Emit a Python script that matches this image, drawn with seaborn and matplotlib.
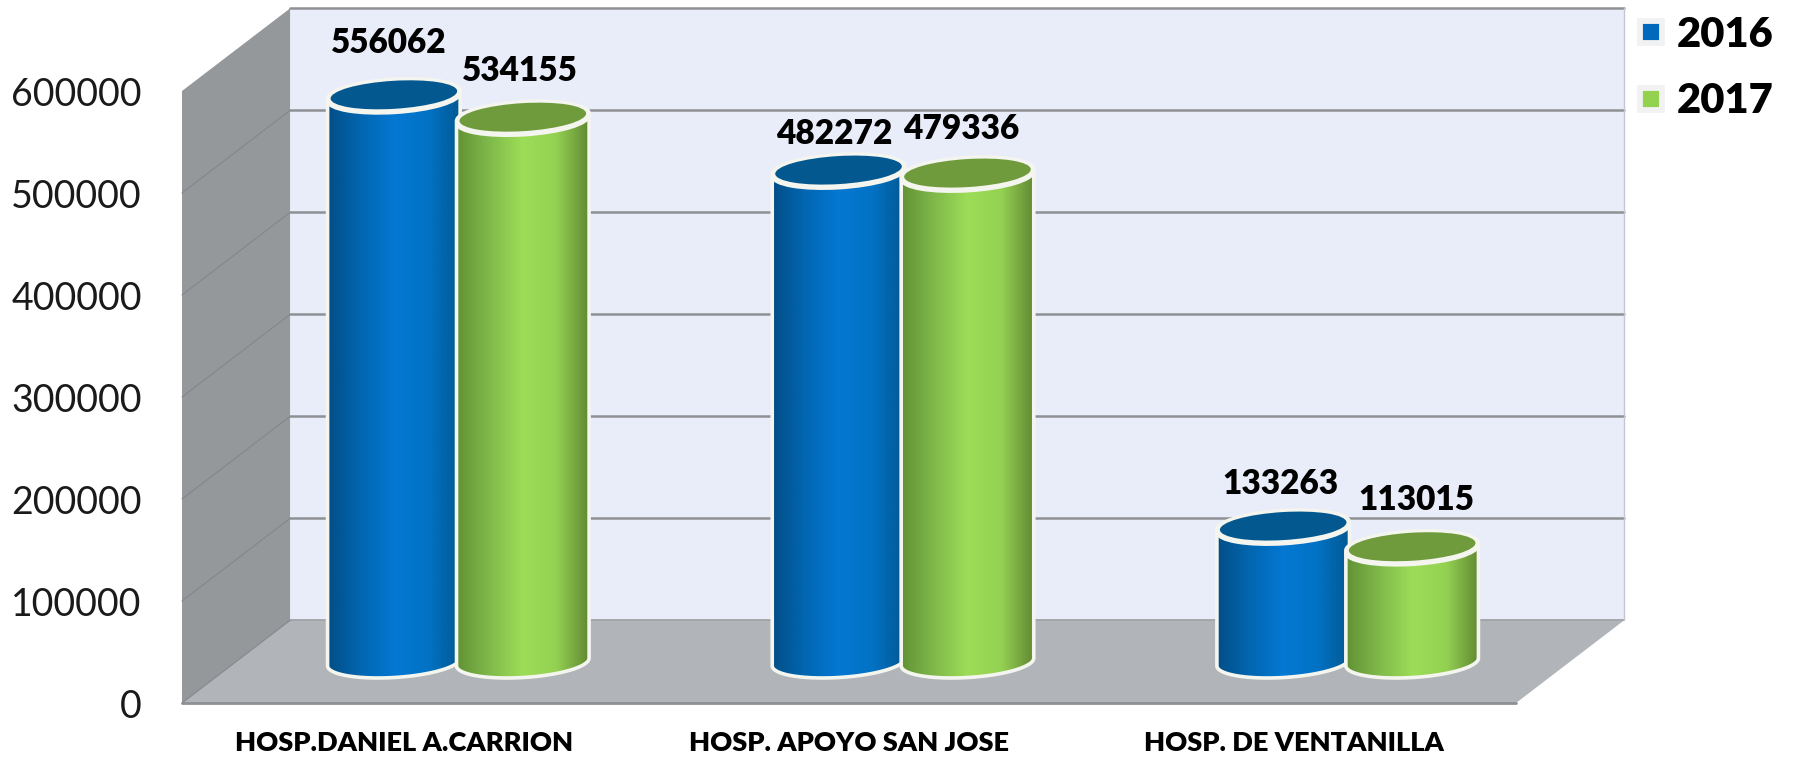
"""
Hospital totals 2016 vs 2017, drawn as 3D looking cylinders on a seaborn bar chart.
"""

import numpy as np
import pandas as pd
import matplotlib
matplotlib.use('Agg')
import matplotlib.pyplot as plt
import seaborn as sns
from matplotlib.colors import LinearSegmentedColormap
from matplotlib.lines import Line2D
from matplotlib.patches import Ellipse, PathPatch, Polygon
from matplotlib.path import Path
from matplotlib.transforms import IdentityTransform

HOSPITALS = ['HOSP.DANIEL A.CARRION', 'HOSP. APOYO SAN JOSE', 'HOSP. DE VENTANILLA']
YEARS = ['2016', '2017']
VALUES_2016 = [556062, 482272, 133263]
VALUES_2017 = [534155, 479336, 113015]
Y_TICKS = [0, 100000, 200000, 300000, 400000, 500000, 600000]

# label nudges in pixels from the cylinder top, the source placed these by hand
LABEL_DX = [-5, -3, -4, -6, -3, 4]
LABEL_DY = [52, 46, 36, 44, 42, 47]

W, H = 1799, 758
BLUE = ['#024C84', '#0266B0', '#0478D2', '#0272C4', '#02568F']
GREEN = ['#5F8F33', '#7FB84A', '#9CDD57', '#94D152', '#5E8430']
TOP_COLORS = ['#02588F', '#6F9B3C']
SOLID = ['#0069BD', '#92D24F']
RIM = '#F4F5EF'
LINE = '#8E9094'
LIFT_X = 0.243  # wall depth, category units
LIFT_Y = 81000  # wall depth, value units
A_TILT = 3.5
HEAVY = 800


def rim_points(cx, cy, a, b, t):
    th = np.radians(A_TILT)
    x = cx + a * np.cos(t) * np.cos(th) - b * np.sin(t) * np.sin(th)
    y = cy + a * np.cos(t) * np.sin(th) + b * np.sin(t) * np.cos(th)
    return np.column_stack([x, y])


def draw_cylinder(ax, bar, cmap, top_color, z):
    """Clip the seaborn bar to a cylinder shape and shade it."""
    x = bar.get_x()
    w = bar.get_width()
    top = bar.get_height()
    p0 = ax.transData.transform((x + w / 2, 0))
    p1 = ax.transData.transform((x + w / 2, top))
    p2 = ax.transData.transform((x + w, 0))
    a = (p2[0] - p0[0]) * 1.03
    b = 15.5

    low = rim_points(p0[0], p0[1], a, b, np.linspace(np.pi, 2 * np.pi, 60))
    high = rim_points(p1[0], p1[1], a, b, np.linspace(0, np.pi, 60))
    verts = np.vstack([low, high, low[:1]])
    shape = Path(verts, closed=True)

    bar.set_zorder(z)
    bar.set_clip_path(shape, IdentityTransform())
    bar.set_clip_box(ax.figure.bbox)

    im = ax.imshow(np.linspace(0, 1, 256)[None, :], cmap=cmap, aspect='auto',
                   extent=(x - w * 0.03, x + w * 1.03, -40000, top + 40000), zorder=z + 0.1)
    im.set_clip_path(shape, IdentityTransform())
    im.set_clip_box(ax.figure.bbox)

    ax.add_patch(PathPatch(shape, fc='none', ec=RIM, lw=2.6, transform=IdentityTransform(),
                           zorder=z + 0.2, clip_on=False))
    ax.add_patch(Ellipse((p1[0], p1[1] - 2.5), 2 * a, 2 * b, angle=A_TILT, fc=RIM, ec=RIM, lw=2,
                         transform=IdentityTransform(), zorder=z + 0.3, clip_on=False))
    ax.add_patch(Ellipse(p1, 2 * a - 6, 2 * b - 3, angle=A_TILT, fc=top_color, ec='none',
                         transform=IdentityTransform(), zorder=z + 0.4, clip_on=False))


def draw_room(ax):
    """Back wall, side wall and floor behind the bars."""
    x0, x1 = -0.5, 2.5
    ymax = Y_TICKS[-1]
    dx, dy = LIFT_X, LIFT_Y

    ax.add_patch(Polygon([(x0 + dx, dy), (x1 + dx, dy), (x1 + dx, ymax + dy), (x0 + dx, ymax + dy)],
                         fc='#E9EDF9', ec='none', clip_on=False, zorder=1))
    ax.add_patch(Polygon([(x0, 0), (x0 + dx, dy), (x0 + dx, ymax + dy), (x0, ymax)],
                         fc='#95989B', ec='none', clip_on=False, zorder=1))
    ax.add_patch(Polygon([(x0, 0), (x1, 0), (x1 + dx, dy), (x0 + dx, dy)],
                         fc='#B1B4B8', ec='none', clip_on=False, zorder=1))

    for t in Y_TICKS[1:]:
        ax.plot([x0 + dx, x1 + dx], [t + dy, t + dy], color=LINE, lw=1.8, clip_on=False, zorder=2)
        if t < ymax:
            ax.plot([x0, x0 + dx], [t, t + dy], color='#83868A', lw=0.8, clip_on=False, zorder=2)
    ax.plot([x0 + dx, x1 + dx], [dy, dy], color='#9A9CA0', lw=1.2, clip_on=False, zorder=2)
    ax.plot([x0, x1], [0, 0], color=LINE, lw=2, clip_on=False, zorder=2)
    ax.plot([x0, x0 + dx], [0, dy], color='#83868A', lw=0.8, clip_on=False, zorder=2)
    ax.plot([x1 + dx, x1 + dx], [dy, ymax + dy], color='#C4C6D0', lw=1, clip_on=False, zorder=2)


if __name__ == '__main__':
    sns.set_theme(style='white')
    plt.rcParams['font.family'] = ['Lato', 'DejaVu Sans']

    df = pd.DataFrame({
        'hospital': HOSPITALS * 2,
        'year': [YEARS[0]] * 3 + [YEARS[1]] * 3,
        'total': VALUES_2016 + VALUES_2017,
    })

    fig = plt.figure(figsize=(W / 100, H / 100), dpi=100, facecolor='white')

    # front plane of the room carries the axis labels
    ax = fig.add_axes([182 / W, (H - 703) / H, 1334 / W, 612 / H])
    ax.set_xlim(-0.5, 2.5)
    ax.set_ylim(0, Y_TICKS[-1])
    ax.set_xticks(range(3))
    ax.set_xticklabels(HOSPITALS, fontsize=19.6, fontweight=HEAVY, color='black')
    ax.set_yticks(Y_TICKS)
    ax.set_yticklabels([str(t) for t in Y_TICKS], fontsize=27, color='#1A1A1A')
    ax.tick_params(axis='x', length=0, pad=20)
    ax.tick_params(axis='y', length=0, pad=29)
    sns.despine(ax=ax, left=True, bottom=True)
    ax.patch.set_visible(False)
    draw_room(ax)

    # bars stand halfway into the room
    ax_bars = fig.add_axes([236 / W, (H - 662) / H, 1334 / W, 612 / H], zorder=2)
    sns.barplot(data=df, x='hospital', y='total', hue='year', hue_order=YEARS, palette=SOLID,
                width=0.58, gap=0, legend=False, ax=ax_bars)
    ax_bars.set_xlim(-0.5, 2.5)
    ax_bars.set_ylim(0, Y_TICKS[-1])
    ax_bars.axis('off')

    cmaps = [LinearSegmentedColormap.from_list('blue3d', BLUE),
             LinearSegmentedColormap.from_list('green3d', GREEN)]

    n = 0
    for group in range(3):
        for s, container in enumerate(ax_bars.containers):
            bar = container[group]
            draw_cylinder(ax_bars, bar, cmaps[s], TOP_COLORS[s], 5 + group * 2 + s)
            ax_bars.annotate(str(int(bar.get_height())),
                             (bar.get_x() + bar.get_width() / 2, bar.get_height()),
                             xytext=(LABEL_DX[n], LABEL_DY[n]), textcoords='offset pixels',
                             ha='center', va='center', fontsize=24, fontweight=HEAVY,
                             color='black', zorder=20, annotation_clip=False)
            n += 1
    ax_bars.set_xlim(-0.5, 2.5)
    ax_bars.set_ylim(0, Y_TICKS[-1])

    handles = [Line2D([], [], marker='s', ls='none', mfc=SOLID[i], mec='#F2F2F2', mew=4.2, ms=15.5)
               for i in range(2)]
    ax_bars.legend(handles, YEARS, loc='upper left', bbox_to_anchor=(1630 / W, (H - 16) / H),
                   bbox_transform=fig.transFigure, frameon=False, borderpad=0, borderaxespad=0,
                   handlelength=1, handletextpad=0.13, labelspacing=0.68,
                   prop={'family': 'Lato', 'weight': HEAVY, 'size': 30}, labelcolor='black')

    fig.savefig('out.png', dpi=100)
    plt.close(fig)
